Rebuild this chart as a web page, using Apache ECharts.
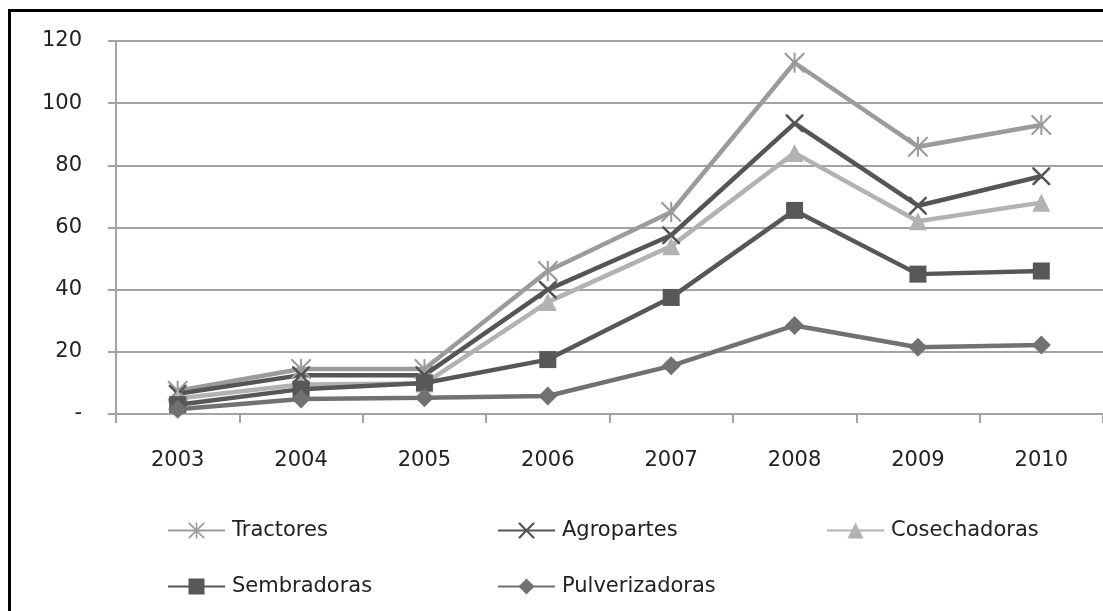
<!DOCTYPE html>
<html>
<head>
<meta charset="utf-8">
<script src="https://cdn.jsdelivr.net/npm/echarts@6/dist/echarts.min.js"></script>
<style>
html,body{margin:0;padding:0;background:#fff;}
#chart{width:1103px;height:611px;}
</style>
</head>
<body>
<div id="chart"></div>
<script>
const categories = ['2003','2004','2005','2006','2007','2008','2009','2010'];
const seriesNames = ['Tractores','Agropartes','Cosechadoras','Sembradoras','Pulverizadoras'];
const tractores      = [7.5, 14.5, 14.5, 46, 65, 113, 86, 93];
const agropartes     = [6.5, 12.5, 12.5, 40, 57.5, 93.5, 67, 76.5];
const cosechadoras   = [5, 9.5, 9.8, 36, 54, 84, 62, 68];
const sembradoras    = [3, 8, 10, 17.5, 37.5, 65.5, 45, 46];
const pulverizadoras = [1.5, 4.8, 5.2, 5.8, 15.5, 28.5, 21.5, 22.2];
const yTickValues = [0, 20, 40, 60, 80, 100, 120];
const yTickLabels = ['-', '20', '40', '60', '80', '100', '120'];

const FONT = 'DejaVu Sans';
const asterisk = 'path://M0,0 L1.5,0 L10,8.5 L18.5,0 L20,0 L20,1.5 L11.5,10 L20,18.5 L20,20 L18.5,20 L10,11.5 L1.5,20 L0,20 L0,18.5 L8.5,10 L0,1.5 Z M9,0 L11,0 L11,20 L9,20 Z';
const cross = 'path://M0,0 L2,0 L10,8 L18,0 L20,0 L20,2 L12,10 L20,18 L20,20 L18,20 L10,12 L2,20 L0,20 L0,18 L8,10 L0,2 Z';

const styles = [
  {data: tractores, color: '#9b9b9b', symbol: asterisk, size: 20},
  {data: agropartes, color: '#555555', symbol: cross, size: 18},
  {data: cosechadoras, color: '#b2b2b2', symbol: 'triangle', size: 18},
  {data: sembradoras, color: '#575757', symbol: 'rect', size: 17},
  {data: pulverizadoras, color: '#717171', symbol: 'diamond', size: 19}
];

const legendPos = [
  {left: 167, top: 520}, {left: 497, top: 520}, {left: 826, top: 520},
  {left: 167, top: 576}, {left: 497, top: 576}
];

const chart = echarts.init(document.getElementById('chart'), null, {renderer: 'canvas'});
chart.setOption({
  animation: false,
  backgroundColor: '#ffffff',
  grid: {left: 116, right: 0, top: 41, bottom: 197, containLabel: false},
  xAxis: {
    type: 'category',
    data: categories,
    boundaryGap: true,
    axisLine: {lineStyle: {color: '#a3a3a3', width: 2}},
    axisTick: {show: true, length: 9, inside: false, lineStyle: {color: '#a3a3a3', width: 2}},
    axisLabel: {margin: 36, color: '#222', fontFamily: FONT, fontSize: 21}
  },
  yAxis: {
    type: 'value',
    min: 0, max: 120, interval: 20,
    axisLine: {show: true, lineStyle: {color: '#a3a3a3', width: 2}},
    axisTick: {show: true, length: 8, lineStyle: {color: '#a3a3a3', width: 2}},
    splitLine: {show: true, lineStyle: {color: '#a3a3a3', width: 2}},
    axisLabel: {
      margin: 34, color: '#222', fontFamily: FONT, fontSize: 21,
      formatter: function (v) { const i = yTickValues.indexOf(v); return i >= 0 ? yTickLabels[i] : ''; }
    }
  },
  legend: seriesNames.map((n, i) => ({
    data: [n],
    left: legendPos[i].left,
    top: legendPos[i].top,
    itemWidth: 57,
    itemHeight: 20,
    padding: 0,
    textStyle: {fontFamily: FONT, fontSize: 21, color: '#222', padding: [0,0,0,2]}
  })),
  graphic: [
    {type: 'line', shape: {x1: 9.5, y1: 9, x2: 9.5, y2: 611}, style: {stroke: '#000', lineWidth: 3}, silent: true},
    {type: 'line', shape: {x1: 8, y1: 10.5, x2: 1103, y2: 10.5}, style: {stroke: '#000', lineWidth: 3}, silent: true}
  ],
  series: seriesNames.map((n, i) => ({
    name: n,
    type: 'line',
    data: styles[i].data,
    symbol: styles[i].symbol,
    symbolSize: styles[i].size,
    showSymbol: true,
    color: styles[i].color,
    lineStyle: {color: styles[i].color, width: 4.5},
    itemStyle: {color: styles[i].color, borderWidth: 0}
  }))
});
</script>
</body>
</html>
